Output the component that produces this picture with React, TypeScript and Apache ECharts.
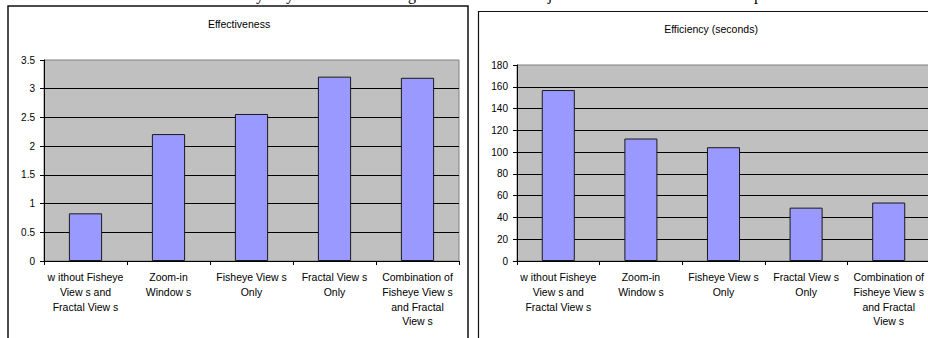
import { useEffect, useRef } from "react";
import * as echarts from "echarts";

// Category labels, wrapped the way they are printed under each bar
const categories = [
  "w ithout Fisheye\nView s and\nFractal View s",
  "Zoom-in\nWindow s",
  "Fisheye View s\nOnly",
  "Fractal View s\nOnly",
  "Combination of\nFisheye View s\nand Fractal\nView s",
];

// Mean scores per condition
const effectiveness = [0.83, 2.21, 2.56, 3.21, 3.19];
const efficiencySeconds = [157, 112.5, 104.5, 49, 53.7];

const effectivenessTitle = "Effectiveness";
const efficiencyTitle = "Efficiency (seconds)";

const effectivenessScale = { min: 0, max: 3.5, interval: 0.5 };
const efficiencyScale = { min: 0, max: 180, interval: 20 };

const SANS = "'Liberation Sans', Arial, Helvetica, sans-serif";
const SERIF = "'Liberation Serif', 'Times New Roman', serif";

export default function App() {
  const ref = useRef<HTMLDivElement | null>(null);

  useEffect(() => {
    if (!ref.current) return;
    const chart = echarts.init(ref.current, undefined, { renderer: "svg" });

    const xAxisFor = (gridIndex: number) => ({
      type: "category" as const,
      gridIndex,
      data: categories,
      axisLine: { show: true, lineStyle: { color: "#000", width: 1 } },
      axisTick: { show: true, length: 4, inside: false, alignWithLabel: false, lineStyle: { color: "#000" } },
      axisLabel: {
        interval: 0,
        margin: 9,
        fontSize: 10.5,
        lineHeight: 14.7,
        color: "#000",
        fontFamily: SANS,
        align: "center" as const,
      },
      splitLine: { show: false },
    });

    const yAxisFor = (gridIndex: number, scale: { min: number; max: number; interval: number }) => ({
      type: "value" as const,
      gridIndex,
      min: scale.min,
      max: scale.max,
      interval: scale.interval,
      axisLine: { show: true, lineStyle: { color: "#000", width: 1 } },
      axisTick: { show: true, length: 4, lineStyle: { color: "#000" } },
      axisLabel: { margin: 9, fontSize: 10, color: "#000", fontFamily: SANS },
      splitLine: {
        show: true,
        showMaxLine: false,
        lineStyle: { color: "#000", width: 1 },
      },
    });

    const barStyle = {
      color: "#9999FF",
      borderColor: "#1a1a1a",
      borderWidth: 1,
    };

    // Descenders of the line of body text that sits just above the figures
    const headerGlyph = (ch: string, x: number) => ({
      type: "text" as const,
      x,
      y: -6,
      silent: true,
      style: {
        text: ch,
        fontSize: 16,
        fontFamily: SERIF,
        fill: "#000",
        align: "center" as const,
        verticalAlign: "middle" as const,
      },
    });

    chart.setOption({
      animation: false,
      backgroundColor: "#fff",
      grid: [
        {
          left: 44,
          top: 60,
          width: 415,
          height: 201,
          show: true,
          backgroundColor: "#C0C0C0",
          borderColor: "#808080",
          borderWidth: 1,
        },
        {
          left: 517,
          top: 65,
          width: 413,
          height: 196,
          show: true,
          backgroundColor: "#C0C0C0",
          borderColor: "#808080",
          borderWidth: 1,
        },
      ],
      xAxis: [xAxisFor(0), xAxisFor(1)],
      yAxis: [yAxisFor(0, effectivenessScale), yAxisFor(1, efficiencyScale)],
      series: [
        {
          type: "bar",
          xAxisIndex: 0,
          yAxisIndex: 0,
          data: effectiveness,
          barWidth: "40%",
          itemStyle: barStyle,
        },
        {
          type: "bar",
          xAxisIndex: 1,
          yAxisIndex: 1,
          data: efficiencySeconds,
          barWidth: "40%",
          itemStyle: barStyle,
        },
      ],
      graphic: [
        // chart frames
        {
          type: "rect",
          silent: true,
          shape: { x: 8, y: 6, width: 460, height: 400 },
          style: { fill: "none", stroke: "#111", lineWidth: 1.5 },
        },
        {
          type: "rect",
          silent: true,
          shape: { x: 478.5, y: 11.5, width: 480, height: 400 },
          style: { fill: "none", stroke: "#111", lineWidth: 1.2 },
        },
        // chart titles
        {
          type: "text",
          x: 239,
          y: 24,
          silent: true,
          style: {
            text: effectivenessTitle,
            fontSize: 10.5,
            fontFamily: SANS,
            fill: "#000",
            align: "center",
            verticalAlign: "middle",
          },
        },
        {
          type: "text",
          x: 711,
          y: 28.5,
          silent: true,
          style: {
            text: efficiencyTitle,
            fontSize: 10.5,
            fontFamily: SANS,
            fill: "#000",
            align: "center",
            verticalAlign: "middle",
          },
        },
        headerGlyph("y", 260),
        headerGlyph("y", 290),
        headerGlyph("g", 412),
        headerGlyph("j", 550),
        headerGlyph("p", 758),
      ],
    });

    return () => {
      chart.dispose();
    };
  }, []);

  return (
    <div
      style={{
        position: "absolute",
        left: 0,
        top: 0,
        width: 928,
        height: 338,
        overflow: "hidden",
        background: "#fff",
      }}
    >
      <div ref={ref} style={{ width: 960, height: 338 }} />
    </div>
  );
}
